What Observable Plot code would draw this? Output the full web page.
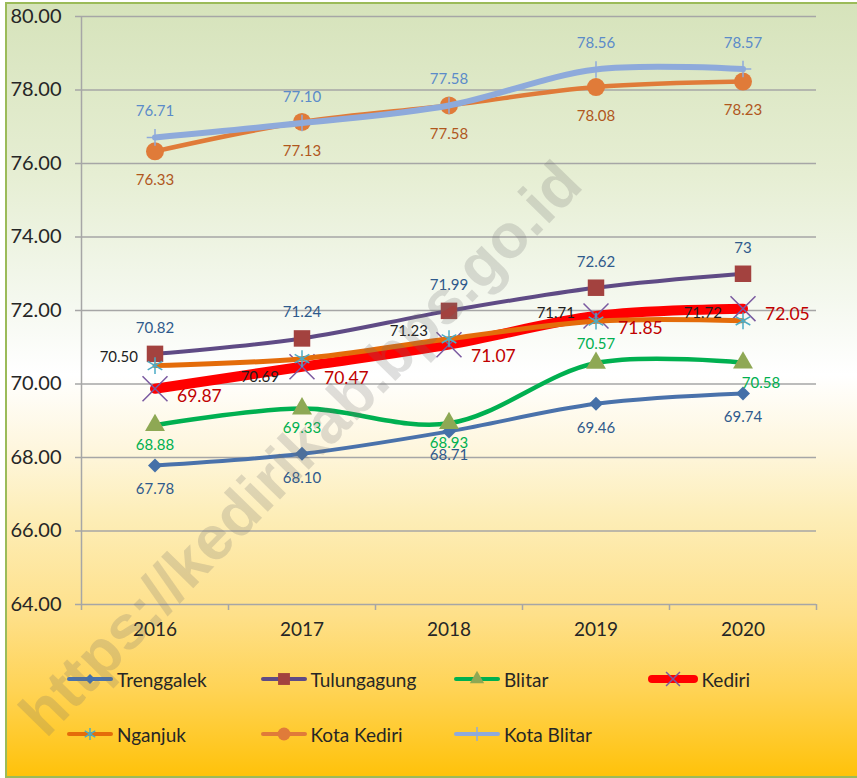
<!DOCTYPE html>
<html>
<head>
<meta charset="utf-8">
<script src="https://cdn.jsdelivr.net/npm/d3@7"></script>
<script src="https://cdn.jsdelivr.net/npm/@observablehq/plot@0.6"></script>
<style>
html,body{margin:0;padding:0;background:#fff;}
#wrap{position:relative;width:857px;height:778px;overflow:hidden;font-family:Lato,"Open Sans",sans-serif;}
#frame{position:absolute;left:5px;top:2px;width:880px;height:772px;border:2px solid #9bbb59;
  background:linear-gradient(to bottom,#d6e3bb 0%,#e6eed3 22%,#f4f8ee 38%,#ffffff 48%,#fef6dc 58%,#fdeeb9 66%,#fee08a 79%,#ffd354 89%,#ffc20a 100%);}
#chart{position:absolute;left:0;top:0;}
.leg{position:absolute;height:24px;display:flex;align-items:center;font-size:19px;color:#262626;white-space:nowrap;}
.leg svg{display:block;}
#wm{position:absolute;left:300px;top:448px;transform:translate(-50%,-50%) rotate(-45.7deg);
  font-family:"Liberation Sans",Arial,sans-serif;font-weight:bold;font-size:62px;color:rgba(110,110,110,0.22);
  white-space:nowrap;pointer-events:none;}
</style>
</head>
<body>
<div id="wrap">
  <div id="frame"></div>
  <div id="chart"></div>
  <div id="legend"></div>
  <div id="wm">https://kedirikab.bps.go.id</div>
</div>
<script>
// ---- data ----
const years = [2016, 2017, 2018, 2019, 2020];
const seriesNames = ["Trenggalek", "Tulungagung", "Blitar", "Kediri", "Nganjuk", "Kota Kediri", "Kota Blitar"];
const trenggalek  = [67.78, 68.10, 68.71, 69.46, 69.74];
const tulungagung = [70.82, 71.24, 71.99, 72.62, 73];
const blitar      = [68.88, 69.33, 68.93, 70.57, 70.58];
const kediri      = [69.87, 70.47, 71.07, 71.85, 72.05];
const nganjuk     = [70.50, 70.69, 71.23, 71.71, 71.72];
const kotaKediri  = [76.33, 77.13, 77.58, 78.08, 78.23];
const kotaBlitar  = [76.71, 77.10, 77.58, 78.56, 78.57];
const yTicks = [64, 66, 68, 70, 72, 74, 76, 78, 80];

const seriesValues = [trenggalek, tulungagung, blitar, kediri, nganjuk, kotaKediri, kotaBlitar];

// ---- styles ----
const styles = {
  "Trenggalek":  {line:"#4a72ab", w:4,   sym:"diamond2", d3sym:d3.symbolDiamond2, r:6.3, lk:0.72, fill:"#4570a8", stroke:"none", sw:0,  label:"#2f5a8c", fs:15, dx:0,   dy:24,  anchor:"middle"},
  "Tulungagung": {line:"#5f4b85", w:4,   sym:"square",   d3sym:d3.symbolSquare,   r:9.3, lk:0.72, fill:"#a3423f", stroke:"none", sw:0,  label:"#2f5a8c", fs:15, dx:0,   dy:-26, anchor:"middle"},
  "Blitar":      {line:"#00b050", w:4.5, sym:"triangle", d3sym:d3.symbolTriangle, r:7.4, lk:0.72, fill:"#8ea854", stroke:"none", sw:0,  label:"#00b050", fs:15, dx:0,   dy:20,  anchor:"middle"},
  "Kediri":      {line:"#ff0000", w:10,  sym:"times",    d3sym:d3.symbolTimes,    r:11.4, lk:0.56, fill:"none", stroke:"#7a5aa0", sw:1.5, label:"#c00000", fs:17.5, dx:22, dy:12, anchor:"start"},
  "Nganjuk":     {line:"#e46c0a", w:5,   sym:"asterisk", d3sym:d3.symbolAsterisk, r:8,   lk:0.72, fill:"none", stroke:"#4bacc6", sw:1.5, label:"#1e1e1e", fs:15, dx:-21, dy:-8,  anchor:"end"},
  "Kota Kediri": {line:"#e07b39", w:4.5, sym:"circle",   d3sym:d3.symbolCircle,   r:9,   lk:0.72, fill:"#e07b39", stroke:"none", sw:0,  label:"#b0571d", fs:15, dx:0,   dy:29,  anchor:"middle"},
  "Kota Blitar": {line:"#8eaadb", w:6,   sym:"plus",     d3sym:d3.symbolPlus,     r:5.4, lk:0.85, fill:"none", stroke:"#8eaadb", sw:1.5, label:"#5b8bc9", fs:15, dx:0,   dy:-26, anchor:"middle"}
};
const labelTweaks = {
  "Blitar|2019": {dy:-19},
  "Blitar|2020": {dx:18, dy:21},
  "Kediri|2016": {dy:8},
  "Kediri|2020": {dy:6},
  "Nganjuk|2016": {dx:-17},
  "Nganjuk|2017": {dx:-23, dy:19}
};

const fmt = v => Number.isInteger(v) ? String(v) : v.toFixed(2);
const gridColor = "#a6a6a6";
const xMin = years[0] - 0.5, xMax = years[years.length - 1] + 0.5;
const boundaries = years.map(y => y - 0.5).concat([xMax]);

const rows = seriesNames.map((name, si) => years.map((year, i) => ({name, year, value: seriesValues[si][i]})));

const marks = [
  Plot.ruleY(yTicks, {x1: xMin, x2: xMax, stroke: gridColor, strokeWidth: 1.5}),
  Plot.ruleX([xMin], {y1: yTicks[0], y2: yTicks[yTicks.length - 1], stroke: gridColor, strokeWidth: 1.5}),
  Plot.axisY({ticks: yTicks, tickFormat: d3.format(".2f"), tickSize: 6, tickPadding: 14, fontSize: 20,
              stroke: gridColor, strokeWidth: 1.5, fill: "#262626", label: null}),
  Plot.axisX({ticks: boundaries, tickFormat: () => "", tickSize: 6, stroke: gridColor, strokeWidth: 1.5, label: null}),
  Plot.axisX({ticks: years, tickFormat: d => String(d), tickSize: 0, tickPadding: 18, fontSize: 19, fill: "#262626", label: null})
];

seriesNames.forEach((name, si) => {
  const s = styles[name];
  marks.push(Plot.line(rows[si], {x: "year", y: "value", stroke: s.line, strokeWidth: s.w, curve: "catmull-rom", strokeLinecap: "round", strokeLinejoin: "round"}));
  marks.push(Plot.dot(rows[si], {x: "year", y: "value", symbol: s.sym, r: s.r, fill: s.fill, stroke: s.stroke, strokeWidth: s.sw}));
});

seriesNames.forEach((name, si) => {
  const s = styles[name];
  rows[si].forEach(d => {
    const t = labelTweaks[name + "|" + d.year] || {};
    marks.push(Plot.text([d], {x: "year", y: "value", text: d => fmt(d.value),
      dx: t.dx ?? s.dx, dy: t.dy ?? s.dy, textAnchor: s.anchor, fill: s.label, fontSize: s.fs}));
  });
});

const chart = Plot.plot({
  width: 857, height: 640,
  marginLeft: 81, marginRight: 41, marginTop: 16, marginBottom: 36,
  x: {type: "linear", domain: [xMin, xMax]},
  y: {domain: [yTicks[0], yTicks[yTicks.length - 1]]},
  style: {background: "none", fontFamily: "Lato, 'Open Sans', sans-serif", overflow: "visible"},
  marks
});
document.getElementById("chart").appendChild(chart);

// ---- legend ----
const legend = document.getElementById("legend");
seriesNames.forEach((name, i) => {
  const s = styles[name];
  const col = i < 4 ? i : i - 4, row = i < 4 ? 0 : 1;
  const x = 67 + col * 193.5, yc = row === 0 ? 679 : 734;
  const item = document.createElement("div");
  item.className = "leg";
  item.style.left = x + "px";
  item.style.top = (yc - 12) + "px";
  const lw = name === "Kediri" ? 50 : 46;
  const svg = d3.create("svg").attr("width", lw + 2).attr("height", 24);
  const lineW = name === "Kediri" ? 8 : 4;
  svg.append("line").attr("x1", lineW / 2).attr("x2", lw - lineW / 2).attr("y1", 12).attr("y2", 12)
     .attr("stroke", s.line).attr("stroke-width", lineW).attr("stroke-linecap", "round");
  const size = Math.PI * (s.r * s.lk) ** 2;
  svg.append("path").attr("transform", `translate(${lw / 2},12)`)
     .attr("d", d3.symbol(s.d3sym, size)())
     .attr("fill", s.fill).attr("stroke", s.stroke).attr("stroke-width", s.sw || null);
  item.appendChild(svg.node());
  const span = document.createElement("span");
  span.textContent = name;
  span.style.marginLeft = "2px";
  item.appendChild(span);
  legend.appendChild(item);
});
</script>
</body>
</html>
